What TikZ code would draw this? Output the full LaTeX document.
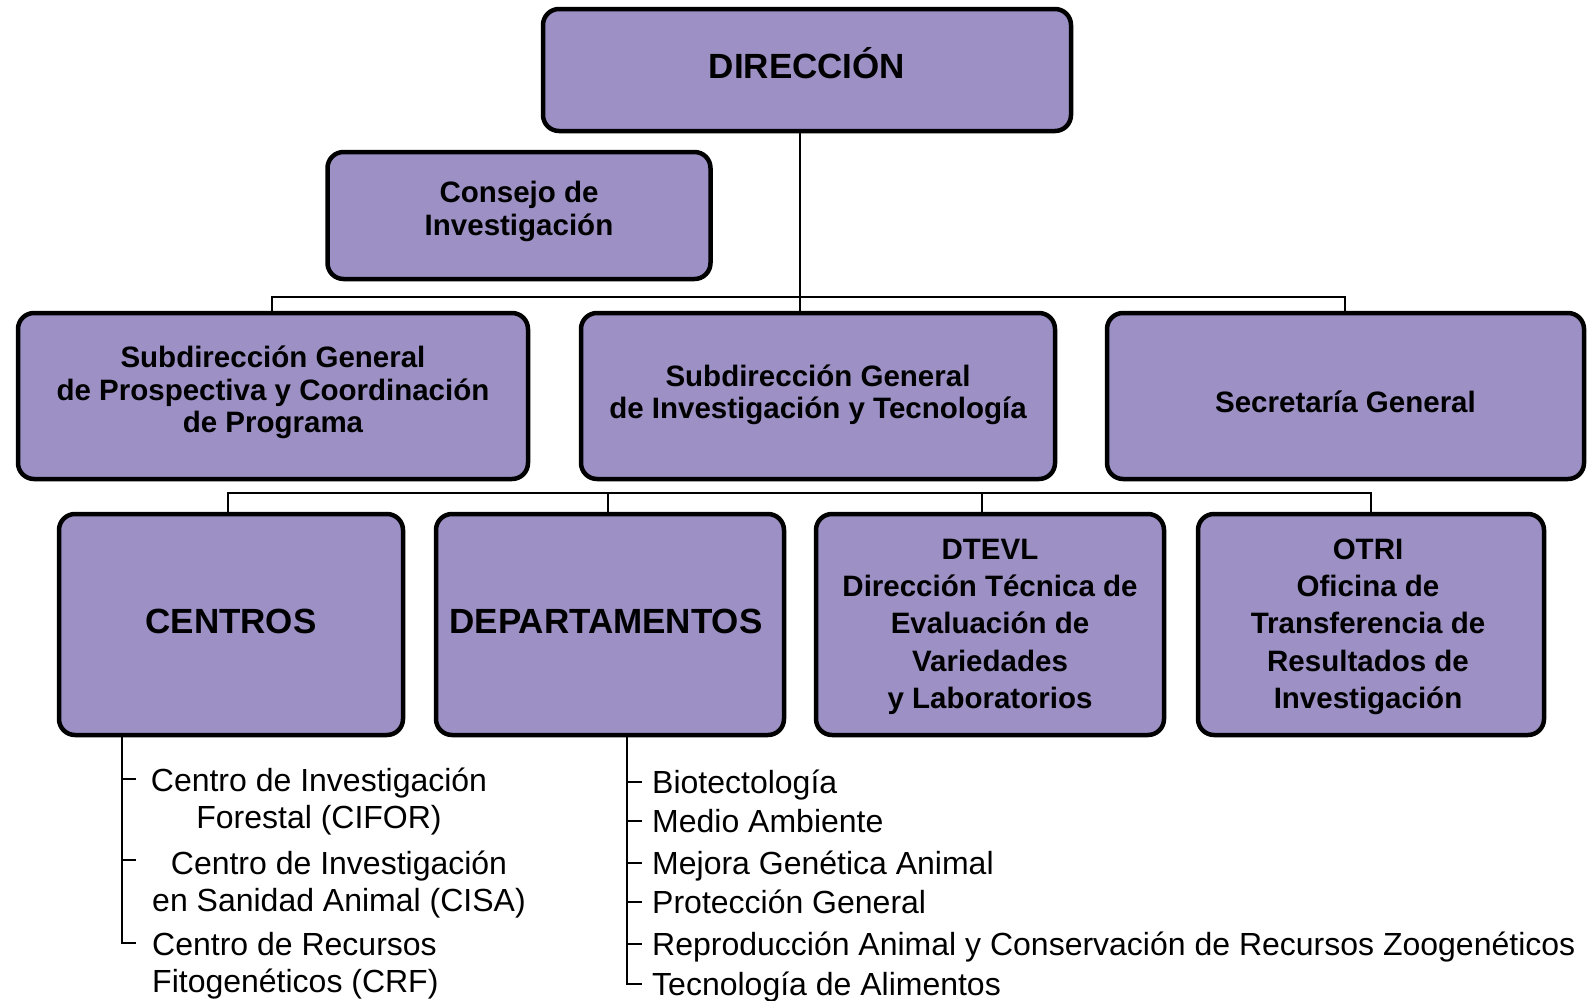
\documentclass[tikz,border=0pt]{standalone}
\usepackage{fontspec}
\setmainfont{Liberation Sans}
\definecolor{boxc}{HTML}{9C90C4}
% multi-line box text: [horizontal kern]{raise}{lines}
\newcommand\boxlines[3][0pt]{\kern#1\raisebox{#2}[\height][\depth]{\begin{tabular}{@{}c@{}}#3\end{tabular}}}
\newcommand\boxone[3][0pt]{\kern#1\raisebox{#2}[\height][\depth]{#3}}
\tikzset{
  orgbox/.style={draw=black, line width=4.5pt, fill=boxc, rounded corners=16pt,
    align=center, inner sep=0pt, font=\bfseries\fontsize{29.5}{32.5}\selectfont},
  bigtxt/.style={font=\bfseries\fontsize{35}{40}\selectfont},
  conn/.style={draw=black, line width=2.4pt},
  listline/.style={draw=black, line width=2.6pt},
  item/.style={inner sep=0pt, font=\fontsize{32}{37}\selectfont}
}
\begin{document}
\begin{tikzpicture}[x=1pt,y=-1pt]
\useasboundingbox (0,0) rectangle (1590,1001);
% coordinates
\coordinate (b1) at (800,297);
\coordinate (b1l) at (272,297);
\coordinate (b1r) at (1345,297);
\coordinate (b2l) at (228,493);
\coordinate (b2a) at (608,493);
\coordinate (b2b) at (982,493);
\coordinate (b2r) at (1371,493);
% boxes
\node[orgbox, bigtxt, minimum width=528, minimum height=122] (dir) at (807,70) {\boxone{7pt}{DIRECCIÓN}};
\node[orgbox, minimum width=383, minimum height=127] (cons) at (519,215.5) {\boxlines{3pt}{Consejo de\\Investigación}};
\node[orgbox, minimum width=510, minimum height=166] (sub1) at (273,396) {\boxlines{2.3pt}{Subdirección General\\de Prospectiva y Coordinación\\de Programa}};
\node[orgbox, minimum width=474, minimum height=166] (sub2) at (818,396) {\boxlines{0pt}{Subdirección General\\de Investigación y Tecnología}};
\node[orgbox, minimum width=477, minimum height=166] (sec) at (1345.5,396) {\boxone{-6pt}{Secretaría General}};
\node[orgbox, bigtxt, minimum width=344, minimum height=221] (cen) at (231,624.5) {\boxone{3pt}{CENTROS}};
\node[orgbox, bigtxt, minimum width=348, minimum height=221] (dep) at (610,624.5) {\boxone[-8pt]{3pt}{DEPARTAMENTOS}};
\node[orgbox, minimum width=348, minimum height=221, font=\bfseries\fontsize{29.5}{37.2}\selectfont] (dtevl) at (990,624.5) {\boxlines{-2pt}{DTEVL\\Dirección Técnica de\\Evaluación de\\Variedades\\y Laboratorios}};
\node[orgbox, minimum width=346, minimum height=221, font=\bfseries\fontsize{29.5}{37.2}\selectfont] (otri) at (1371,624.5) {\boxlines[-6pt]{-2pt}{OTRI\\Oficina de\\Transferencia de\\Resultados de\\Investigación}};
% connectors
\draw[conn] (dir.south -| b1) -- (b1);
\draw[conn] (sub1.north -| b1l) |- (b1r) -- (sec.north -| b1r);
\draw[conn] (b1) -- (sub2.north -| b1);
\draw[conn] (cen.north -| b2l) |- (b2r) -- (otri.north -| b2r);
\draw[conn] (b2a) -- (dep.north -| b2a);
\draw[conn] (b2b) -- (dtevl.north -| b2b);
% centros list
\coordinate (cl) at (122,943);
\draw[listline] (cen.south -| cl) -- (cl) -- (136,943);
\draw[listline] (122,779) -- (136,779);
\draw[listline] (122,860) -- (136,860);
\node[item, align=center] (c1) at (319,802) {Centro de Investigación\\Forestal (CIFOR)};
\node[item, align=center] (c2) at (339,885) {Centro de Investigación\\en Sanidad Animal (CISA)};
\node[item, align=left, anchor=west] (c3) at (152,966) {Centro de Recursos\\Fitogenéticos (CRF)};
% departamentos list
\coordinate (dl) at (627,984);
\draw[listline] (dep.south -| dl) -- (dl) -- (642,984);
\foreach \yy in {782,821,863,902,944} {\draw[listline] (627,\yy) -- (642,\yy);}
\node[item, anchor=base west] (d1) at (652,793) {Biotectología};
\node[item, anchor=base west] (d2) at (652,832) {Medio Ambiente};
\node[item, anchor=base west] (d3) at (652,874) {Mejora Genética Animal};
\node[item, anchor=base west] (d4) at (652,913) {Protección General};
\node[item, anchor=base west] (d5) at (652,955) {Reproducción Animal y Conservación de Recursos Zoogenéticos};
\node[item, anchor=base west] (d6) at (652,995) {Tecnología de Alimentos};
\end{tikzpicture}
\end{document}
